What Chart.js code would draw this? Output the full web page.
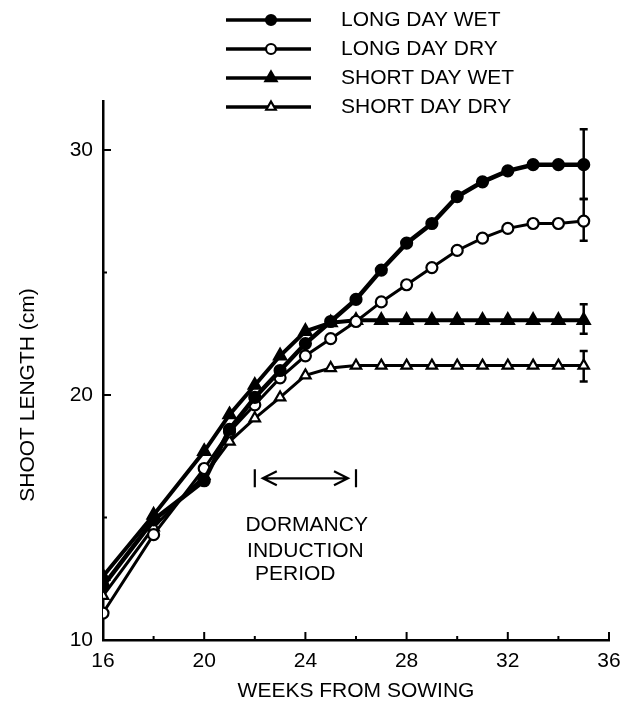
<!DOCTYPE html>
<html>
<head>
<meta charset="utf-8">
<script src="https://cdn.jsdelivr.net/npm/chart.js@4.4.1/dist/chart.umd.min.js"></script>
<style>
  html, body { margin: 0; padding: 0; background: #fff; }
  canvas { display: block; }
</style>
</head>
<body>
<canvas id="myChart" width="634" height="713"></canvas>
<script>
// weeks with a measurement (biweekly first, weekly from week 20)
var WEEKS = [16, 18, 20, 21, 22, 23, 24, 25, 26, 27, 28, 29, 30, 31, 32, 33, 34, 35];

// shoot length (cm)
var LONG_DAY_WET  = [12.2, 14.9, 16.5, 18.6, 19.9, 21.0, 22.1, 23.0, 23.9, 25.1, 26.2, 27.0, 28.1, 28.7, 29.15, 29.4, 29.4, 29.4];
var LONG_DAY_DRY  = [11.1, 14.3, 17.0, 18.5, 19.6, 20.7, 21.6, 22.3, 23.0, 23.8, 24.5, 25.2, 25.9, 26.4, 26.8, 27.0, 27.0, 27.1];
var SHORT_DAY_WET = [12.6, 15.1, 17.7, 19.2, 20.4, 21.6, 22.6, 22.95, 23.05, 23.05, 23.05, 23.05, 23.05, 23.05, 23.05, 23.05, 23.05, 23.05];
var SHORT_DAY_DRY = [11.8, 14.6, 16.7, 18.1, 19.05, 19.9, 20.8, 21.1, 21.2, 21.2, 21.2, 21.2, 21.2, 21.2, 21.2, 21.2, 21.2, 21.2];

var SERIES_NAMES = ["LONG DAY WET", "LONG DAY DRY", "SHORT DAY WET", "SHORT DAY DRY"];

// error bars drawn at the last week
var ERR_WEEK = 35;
var ERR_LOW  = [28.0, 26.3, 22.5, 20.55];
var ERR_HIGH = [30.85, 28.0, 23.7, 21.8];

// axes
var X_TICKS = [16, 20, 24, 28, 32, 36];
var X_MINOR = [18, 22, 26, 30, 34];
var Y_TICKS = [10, 20, 30];
var Y_MINOR = [15, 25];

// dormancy induction period annotation
var DORMANCY_START = 22;
var DORMANCY_END = 26;
var NOTE_LINES = ["DORMANCY", "INDUCTION", "PERIOD"];

var FONT = "'Liberation Sans', Arial, sans-serif";
var INK = "#000";

function points(values) {
    return WEEKS.map(function (w, i) { return { x: w, y: values[i] }; });
}

var figureMarks = {
    id: "figureMarks",
    beforeDatasetsDraw: function (chart) {
        var ctx = chart.ctx;
        var xs = chart.scales.x, ys = chart.scales.y;
        var x = xs.getPixelForValue(ERR_WEEK);
        ctx.save();
        ctx.strokeStyle = INK;
        ctx.lineWidth = 2.5;
        for (var i = 0; i < ERR_LOW.length; i++) {
            var y1 = ys.getPixelForValue(ERR_LOW[i]);
            var y2 = ys.getPixelForValue(ERR_HIGH[i]);
            ctx.beginPath();
            ctx.moveTo(x, y1); ctx.lineTo(x, y2);
            ctx.moveTo(x - 4, y1); ctx.lineTo(x + 4, y1);
            ctx.moveTo(x - 4, y2); ctx.lineTo(x + 4, y2);
            ctx.stroke();
        }
        ctx.restore();
    },
    afterDraw: function (chart) {
        var ctx = chart.ctx;
        var xs = chart.scales.x, ys = chart.scales.y;
        var area = chart.chartArea;
        ctx.save();
        ctx.strokeStyle = INK;
        ctx.fillStyle = INK;
        ctx.lineWidth = 2;

        // inward tick marks
        ctx.beginPath();
        X_TICKS.forEach(function (v) {
            var px = xs.getPixelForValue(v);
            ctx.moveTo(px, area.bottom); ctx.lineTo(px, area.bottom - 8);
        });
        X_MINOR.forEach(function (v) {
            var px = xs.getPixelForValue(v);
            ctx.moveTo(px, area.bottom); ctx.lineTo(px, area.bottom - 4);
        });
        Y_TICKS.forEach(function (v) {
            var py = ys.getPixelForValue(v);
            ctx.moveTo(area.left, py); ctx.lineTo(area.left + 8, py);
        });
        Y_MINOR.forEach(function (v) {
            var py = ys.getPixelForValue(v);
            ctx.moveTo(area.left, py); ctx.lineTo(area.left + 4, py);
        });
        ctx.stroke();

        // dormancy arrow
        var ax1 = xs.getPixelForValue(DORMANCY_START);
        var ax2 = xs.getPixelForValue(DORMANCY_END);
        var ay = ys.getPixelForValue(16.6);
        ctx.lineWidth = 2.2;
        ctx.beginPath();
        ctx.moveTo(ax1, ay - 9); ctx.lineTo(ax1, ay + 9);
        ctx.moveTo(ax2, ay - 9); ctx.lineTo(ax2, ay + 9);
        ctx.moveTo(ax1 + 8, ay); ctx.lineTo(ax2 - 8, ay);
        ctx.moveTo(ax1 + 22, ay - 7); ctx.lineTo(ax1 + 8, ay); ctx.lineTo(ax1 + 22, ay + 7);
        ctx.moveTo(ax2 - 22, ay - 7); ctx.lineTo(ax2 - 8, ay); ctx.lineTo(ax2 - 22, ay + 7);
        ctx.stroke();

        // annotation text
        ctx.font = "21px " + FONT;
        ctx.textAlign = "center";
        ctx.textBaseline = "middle";
        var noteX = [24.05, 24.0, 23.6];
        var noteY = [14.7, 13.62, 12.68];
        NOTE_LINES.forEach(function (t, i) {
            ctx.fillText(t, xs.getPixelForValue(noteX[i]), ys.getPixelForValue(noteY[i]));
        });

        // y axis title
        ctx.save();
        ctx.translate(28, 395);
        ctx.rotate(-Math.PI / 2);
        ctx.fillText("SHOOT LENGTH (cm)", 0, 0);
        ctx.restore();

        // legend
        var rowY = [20, 49, 78, 107];
        ctx.textAlign = "left";
        chart.data.datasets.forEach(function (ds, i) {
            ctx.strokeStyle = INK;
            ctx.lineWidth = 3.5;
            ctx.beginPath();
            ctx.moveTo(226, rowY[i]); ctx.lineTo(311, rowY[i]);
            ctx.stroke();
            ctx.fillStyle = ds.pointBackgroundColor;
            ctx.strokeStyle = ds.pointBorderColor;
            ctx.lineWidth = ds.pointBorderWidth;
            Chart.helpers.drawPoint(ctx, {
                pointStyle: ds.pointStyle,
                radius: ds.pointRadius - 0.5,
                borderWidth: ds.pointBorderWidth,
                rotation: 0
            }, 271, rowY[i]);
            ctx.fillStyle = INK;
            ctx.fillText(SERIES_NAMES[i], 341, rowY[i]);
        });
        ctx.restore();
    }
};

function series(label, values, style, filled, width, radius) {
    return {
        label: label,
        data: points(values),
        borderColor: INK,
        borderWidth: width,
        pointStyle: style,
        pointRadius: radius,
        pointHoverRadius: radius,
        pointBackgroundColor: filled ? INK : "#fff",
        pointBorderColor: INK,
        pointBorderWidth: 2.2,
        tension: 0,
        fill: false
    };
}

var ctx = document.getElementById("myChart").getContext("2d");
var myChart = new Chart(ctx, {
    type: "line",
    data: {
        datasets: [
            series(SERIES_NAMES[0], LONG_DAY_WET, "circle", true, 4.5, 5.5),
            series(SERIES_NAMES[1], LONG_DAY_DRY, "circle", false, 3, 5.5),
            series(SERIES_NAMES[2], SHORT_DAY_WET, "triangle", true, 4, 7),
            series(SERIES_NAMES[3], SHORT_DAY_DRY, "triangle", false, 3, 6)
        ]
    },
    options: {
        responsive: false,
        animation: false,
        devicePixelRatio: 1,
        layout: { padding: { top: 101, right: 25, left: 0, bottom: 0 } },
        plugins: {
            legend: { display: false },
            tooltip: { enabled: false }
        },
        scales: {
            x: {
                type: "linear",
                min: 16,
                max: 36,
                afterBuildTicks: function (scale) {
                    scale.ticks = X_TICKS.map(function (v) { return { value: v }; });
                },
                afterFit: function (scale) { scale.height = 73; },
                grid: { display: false, drawTicks: false },
                border: { display: true, color: INK, width: 2.5 },
                ticks: { color: INK, padding: 9, maxRotation: 0, font: { family: FONT, size: 21 } },
                title: {
                    display: true,
                    text: "WEEKS FROM SOWING",
                    color: INK,
                    font: { family: FONT, size: 21 },
                    padding: { top: 0, bottom: 9 }
                }
            },
            y: {
                type: "linear",
                min: 10,
                max: 32,
                afterBuildTicks: function (scale) {
                    scale.ticks = Y_TICKS.map(function (v) { return { value: v }; });
                },
                afterFit: function (scale) { scale.width = 103; },
                grid: { display: false, drawTicks: false },
                border: { display: true, color: INK, width: 2.5 },
                ticks: { color: INK, padding: 10, font: { family: FONT, size: 21 } }
            }
        }
    },
    plugins: [figureMarks]
});
</script>
</body>
</html>
